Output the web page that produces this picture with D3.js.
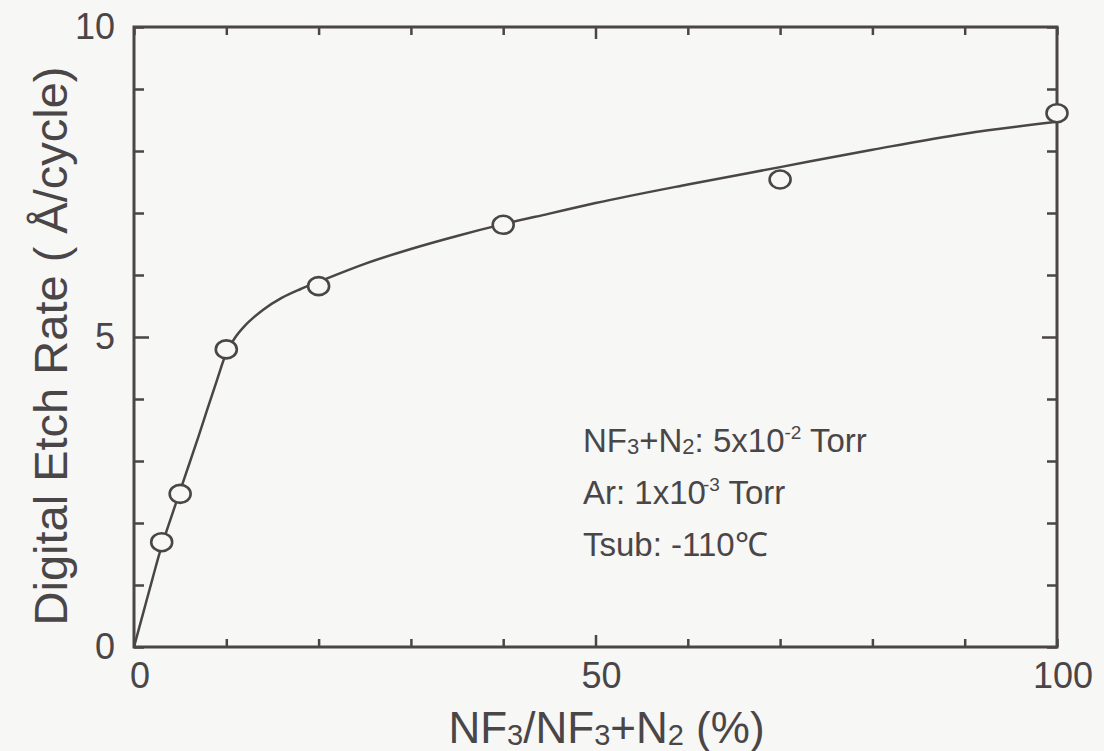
<!DOCTYPE html>
<html>
<head>
<meta charset="utf-8">
<script src="https://cdn.jsdelivr.net/npm/d3@7"></script>
<style>
  html, body { margin: 0; padding: 0; background: #f7f7f5; }
  svg { display: block; }
  text { font-family: "Liberation Sans", Arial, Helvetica, sans-serif; fill: #4a4648; }
</style>
</head>
<body>
<svg id="chart" width="1104" height="751"></svg>
<script>
// Measured digital etch rate vs. NF3 fraction
const ratioPct = [3, 5, 10, 20, 40, 70, 100];
const etchRate = [1.69, 2.47, 4.8, 5.82, 6.81, 7.54, 8.61];

// Guide curve drawn through the measurements
const curveX = [0, 1, 2, 3, 4, 5, 6, 7, 8, 9, 10, 11, 12, 13, 14, 16, 18, 20, 25, 30, 35, 40, 45, 50, 60, 70, 80, 90, 100];
const curveY = [0, 0.55, 1.1, 1.63, 2.08, 2.52, 2.96, 3.4, 3.86, 4.31, 4.74, 5.0, 5.18, 5.32, 5.44, 5.63, 5.77, 5.89, 6.18, 6.42, 6.63, 6.82, 6.99, 7.16, 7.46, 7.74, 8.02, 8.28, 8.47];

// Tick labels
const xTickLabels = [0, 50, 100];
const yTickLabels = [0, 5, 10];

const ink = "#4a4547";
const bg = "#f7f7f5";

const svg = d3.select("#chart");
const margin = { left: 134, right: 47, top: 27, bottom: 104 };
const W = 1104, H = 751;

const x = d3.scaleLinear().domain([0, 100]).range([margin.left, W - margin.right]);
const y = d3.scaleLinear().domain([0, 10]).range([H - margin.bottom, margin.top]);

// Inward ticks: every 10 % on x (longer at 50), every 1 unit on y (longer at 5)
const xTicks = d3.range(0, 101, 10);
const yTicks = d3.range(0, 11, 1);
const xLen = v => (v === 50 ? 12 : 8);
const yLen = v => (v === 5 ? 15 : 10);

function styleAxis(g) {
  g.select(".domain").remove();
  g.selectAll("line").attr("stroke", ink).attr("stroke-width", 2.5);
}

const bottomAxis = d3.axisBottom(x).tickValues(xTicks).tickFormat("").tickSizeOuter(0);
const topAxis = d3.axisTop(x).tickValues(xTicks).tickFormat("").tickSizeOuter(0);
const leftAxis = d3.axisLeft(y).tickValues(yTicks).tickFormat("").tickSizeOuter(0);
const rightAxis = d3.axisRight(y).tickValues(yTicks).tickFormat("").tickSizeOuter(0);

svg.append("g").attr("transform", `translate(0,${y(0)})`).call(bottomAxis).call(styleAxis)
  .selectAll(".tick line").attr("y2", d => -xLen(d));
svg.append("g").attr("transform", `translate(0,${y(10)})`).call(topAxis).call(styleAxis)
  .selectAll(".tick line").attr("y2", d => xLen(d));
svg.append("g").attr("transform", `translate(${x(0)},0)`).call(leftAxis).call(styleAxis)
  .selectAll(".tick line").attr("x2", d => yLen(d));
svg.append("g").attr("transform", `translate(${x(100)},0)`).call(rightAxis).call(styleAxis)
  .selectAll(".tick line").attr("x2", d => -yLen(d));

// Frame
svg.append("rect")
  .attr("x", x(0)).attr("y", y(10))
  .attr("width", x(100) - x(0)).attr("height", y(0) - y(10))
  .attr("fill", "none").attr("stroke", ink).attr("stroke-width", 3);

// Tick labels
svg.append("g").selectAll("text").data(xTickLabels).join("text")
  .attr("x", d => x(d) + 6).attr("y", y(0) + 41)
  .attr("text-anchor", "middle").attr("font-size", 36)
  .text(d => d);
svg.append("g").selectAll("text").data(yTickLabels).join("text")
  .attr("x", x(0) - 19).attr("y", d => y(d) + 12)
  .attr("text-anchor", "end").attr("font-size", 36)
  .text(d => d);

// Curve
const line = d3.line().x(d => x(d[0])).y(d => y(d[1])).curve(d3.curveMonotoneX);
svg.append("path")
  .datum(d3.zip(curveX, curveY))
  .attr("d", line)
  .attr("fill", "none").attr("stroke", ink).attr("stroke-width", 2.5);

// Open markers
svg.append("g").selectAll("ellipse").data(d3.zip(ratioPct, etchRate)).join("ellipse")
  .attr("cx", d => x(d[0])).attr("cy", d => y(d[1]))
  .attr("rx", 10.5).attr("ry", 9)
  .attr("fill", bg).attr("stroke", ink).attr("stroke-width", 2.6);

// Conditions
const note = svg.append("g").attr("font-size", 33);
const l1 = note.append("text").attr("x", 583).attr("y", 452);
l1.append("tspan").text("NF");
l1.append("tspan").attr("font-size", 22).attr("dy", 2).text("3");
l1.append("tspan").attr("dy", -2).text("+N");
l1.append("tspan").attr("font-size", 22).attr("dy", 2).text("2");
l1.append("tspan").attr("dy", -2).text(": 5x10");
l1.append("tspan").attr("font-size", 19).attr("dy", -13).text("-2");
l1.append("tspan").attr("dy", 13).text(" Torr");

const l2 = note.append("text").attr("x", 583).attr("y", 504);
l2.append("tspan").text("Ar: 1x10");
l2.append("tspan").attr("font-size", 19).attr("dy", -13).attr("dx", -3).text("-3");
l2.append("tspan").attr("dy", 13).text(" Torr");

note.append("text").attr("x", 583).attr("y", 556).text("Tsub: -110℃");

// Axis titles
const xt = svg.append("text").attr("x", x(50) + 11).attr("y", 743)
  .attr("text-anchor", "middle").attr("font-size", 44);
xt.append("tspan").text("NF");
xt.append("tspan").attr("font-size", 29).attr("dy", 2).text("3");
xt.append("tspan").attr("dy", -2).text("/NF");
xt.append("tspan").attr("font-size", 29).attr("dy", 2).text("3");
xt.append("tspan").attr("dy", -2).text("+N");
xt.append("tspan").attr("font-size", 29).attr("dy", 2).text("2");
xt.append("tspan").attr("dy", -2).text(" (%)");

svg.append("text")
  .attr("transform", `translate(67,${(y(0) + y(10)) / 2 + 9}) rotate(-90)`)
  .attr("text-anchor", "middle").attr("font-size", 47)
  .text("Digital Etch Rate ( Å/cycle)");
</script>
</body>
</html>
